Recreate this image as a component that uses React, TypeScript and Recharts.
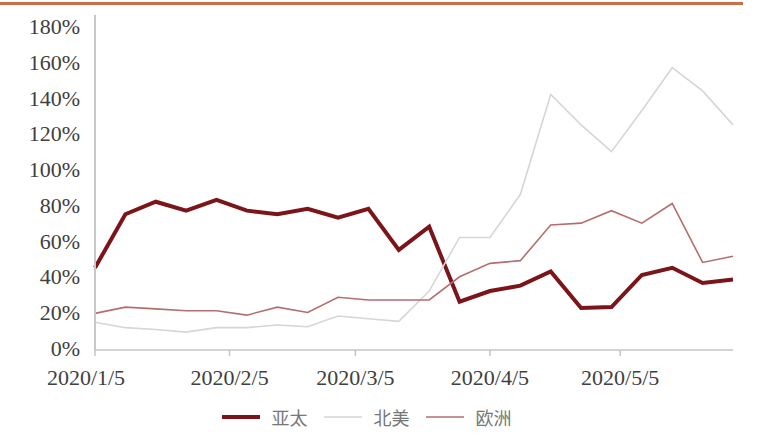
import React from "react";
import { LineChart, Line, XAxis, YAxis, Legend } from "recharts";

// weekly observation dates
const weeks = [
  "2020/1/5", "2020/1/12", "2020/1/19", "2020/1/26", "2020/2/2", "2020/2/9",
  "2020/2/16", "2020/2/23", "2020/3/1", "2020/3/8", "2020/3/15", "2020/3/22",
  "2020/3/29", "2020/4/5", "2020/4/12", "2020/4/19", "2020/4/26", "2020/5/3",
  "2020/5/10", "2020/5/17", "2020/5/24", "2020/5/31",
];

// values in %
const apac = [46, 76, 83, 78, 84, 78, 76, 79, 74, 79, 56, 69, 27, 33, 36, 44, 23.5, 24, 42, 46, 37.5, 39.5];
const northAmerica = [15.5, 12.5, 11.5, 10, 12.5, 12.5, 14, 13, 19, 17.5, 16, 33, 63, 63, 87, 143, 126, 111, 134, 158, 145, 126];
const europe = [20.5, 24, 23, 22, 22, 19.5, 24, 21, 29.5, 28, 28, 28, 41, 48.5, 50, 70, 71, 78, 71, 82, 49, 52.5];

const xTickLabels = ["2020/1/5", "2020/2/5", "2020/3/5", "2020/4/5", "2020/5/5"];
const yTicks = [0, 20, 40, 60, 80, 100, 120, 140, 160, 180];

const toDate = (s: string) => {
  const [y, m, d] = s.split("/").map(Number);
  return Date.UTC(y, m - 1, d);
};
const DAY = 86400000;
const start = toDate(weeks[0]);
const dayOf = (s: string) => Math.round((toDate(s) - start) / DAY);

const data = weeks.map((w, i) => ({
  day: dayOf(w),
  apac: apac[i],
  na: northAmerica[i],
  eu: europe[i],
}));
const xTicks = xTickLabels.map(dayOf);

const series = [
  { key: "apac", name: "亚太", color: "#7b1519", width: 4 },
  { key: "na", name: "北美", color: "#d6d6d6", width: 1.6 },
  { key: "eu", name: "欧洲", color: "#b56e6f", width: 1.6 },
];

const axisText: React.CSSProperties = {
  fontFamily: '"Liberation Serif", "DejaVu Serif", serif',
  fontSize: 22,
  fill: "#404040",
};

const XTick = (props: any) => {
  const { x, y, payload, index } = props;
  const label = xTickLabels[xTicks.indexOf(payload.value)] ?? "";
  return (
    <text x={index === 0 ? x - 9 : x} y={y} dy="0.71em" textAnchor="middle" style={axisText}>
      {label}
    </text>
  );
};

const YTick = (props: any) => {
  const { x, y, payload } = props;
  return (
    <text x={x} y={y - 2} dy="0.355em" textAnchor="end" style={axisText}>
      {payload.value}%
    </text>
  );
};

const LegendContent = () => (
  <div style={{ display: "flex", justifyContent: "center", alignItems: "center", height: 30, gap: 16 }}>
    {series.map((s) => (
      <div key={s.key} style={{ display: "flex", alignItems: "center", gap: 12 }}>
        <svg width={38} height={10}>
          <line x1={0} x2={38} y1={5} y2={5} stroke={s.color} strokeWidth={s.width} />
        </svg>
        <span style={{ fontFamily: '"Noto Sans CJK SC", sans-serif', fontSize: 18, color: "#777" }}>{s.name}</span>
      </div>
    ))}
  </div>
);

const App: React.FC = () => {
  return (
    <div style={{ position: "absolute", left: 0, top: 0, width: 778, height: 438, background: "#fff" }}>
      <div style={{ position: "absolute", left: 0, top: 2, width: 743, height: 3, background: "#c96f4c" }} />
      <LineChart
        width={778}
        height={438}
        data={data}
        margin={{ top: 15, right: 45, bottom: 6, left: 0 }}
      >
        <XAxis
          dataKey="day"
          type="number"
          domain={[0, dayOf(weeks[weeks.length - 1])]}
          ticks={xTicks}
          height={52}
          stroke="#c4c4c4"
          strokeWidth={1.5}
          tickSize={6}
          tickMargin={13}
          tick={<XTick />}
        />
        <YAxis
          type="number"
          domain={[0, 187.5]}
          ticks={yTicks}
          width={95}
          stroke="#c8c8c8"
          strokeWidth={2}
          tickLine={false}
          tickSize={0}
          tickMargin={15}
          tick={<YTick />}
        />
        <Legend verticalAlign="bottom" height={30} content={<LegendContent />} />
        {series.map((s) => (
          <Line
            key={s.key}
            type="linear"
            dataKey={s.key}
            name={s.name}
            stroke={s.color}
            strokeWidth={s.width}
            dot={false}
            activeDot={false}
            isAnimationActive={false}
          />
        ))}
      </LineChart>
    </div>
  );
};

export default App;
